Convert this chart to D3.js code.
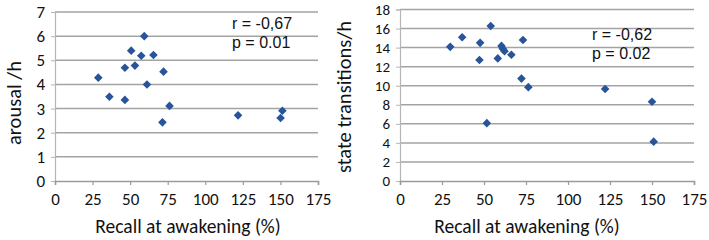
<!DOCTYPE html>
<html><head><meta charset="utf-8">
<script src="https://cdn.jsdelivr.net/npm/d3@7"></script>
<style>body{margin:0;background:#fff}svg{display:block}</style>
</head><body>
<svg id="c" width="709" height="240"></svg>
<script>
const xTicks = [0,25,50,75,100,125,150,175];
const arousalTicks = [0,1,2,3,4,5,6,7];
const transTicks = [0,2,4,6,8,10,12,14,16,18];

const arousalRecall = [28.8,36.2,46.5,46.5,50.7,53.2,57.4,59.4,61.2,65.5,72.2,71.5,76.2,121.8,150.1,151.3];
const arousalValues = [4.28,3.49,3.36,4.69,5.40,4.78,5.19,6.0,4.0,5.22,4.53,2.43,3.11,2.72,2.61,2.91];

const transRecall = [29.9,37.0,47.7,47.3,54.0,51.7,58.2,60.4,61.2,62.2,66.3,73.2,72.3,76.4,122.1,150.0,151.0];
const transValues = [14.08,15.09,14.5,12.7,16.27,6.07,12.87,14.18,13.87,13.63,13.25,14.8,10.75,9.85,9.65,8.32,4.13];

const xTitle = "Recall at awakening (%)";
const panels = [
  {xr:[55,318], yr:[181,12], ymax:7, yticks:arousalTicks, yfs:17, xs:arousalRecall, ys:arousalValues,
   ytitle:"arousal /h", ytx:14, yty:103, xtx:188, r:"r = -0,67", p:"p = 0.01", ax:232, ary:29, apy:48},
  {xr:[400,694], yr:[181,9.5], ymax:18, yticks:transTicks, yfs:15, xs:transRecall, ys:transValues,
   ytitle:"state transitions/h", ytx:344, yty:97, xtx:527, r:"r = -0,62", p:"p = 0.02", ax:592, ary:40, apy:58.5}
];
const svg = d3.select("#c");
const tickFont = "Carlito, Lato, 'Open Sans', sans-serif";
const blue = "#27549a";
panels.forEach(P => {
  const x = d3.scaleLinear().domain([0,175]).range(P.xr);
  const y = d3.scaleLinear().domain([0,P.ymax]).range(P.yr);
  const g = svg.append("g");
  g.selectAll(".grid").data(P.yticks.filter(t=>t>0)).join("line")
    .attr("x1", x(0)).attr("x2", x(175)).attr("y1", d=>y(d)).attr("y2", d=>y(d))
    .attr("stroke","#a3a3a3").attr("stroke-width",1.5);
  const ya = g.append("g").attr("transform",`translate(${x(0)},0)`)
    .call(d3.axisLeft(y).tickValues(P.yticks).tickSize(4).tickPadding(6).tickFormat(d3.format("d")));
  ya.select(".domain").attr("stroke","#b5b5b5").attr("stroke-width",1.2);
  ya.selectAll(".tick line").attr("stroke","#b5b5b5");
  ya.selectAll("text").attr("font-family",tickFont).attr("font-size",P.yfs).attr("fill","#111");
  const xa = g.append("g").attr("transform",`translate(0,${y(0)})`)
    .call(d3.axisBottom(x).tickValues(xTicks).tickSize(4).tickPadding(8).tickFormat(d3.format("d")));
  xa.select(".domain").attr("stroke","#9a9a9a").attr("stroke-width",1.5);
  xa.selectAll(".tick line").attr("stroke","#9a9a9a").attr("stroke-width",1.2);
  xa.selectAll("text").attr("font-family",tickFont).attr("font-size",17).attr("fill","#111");
  g.selectAll(".pt").data(P.xs.map((v,i)=>[v,P.ys[i]])).join("path")
    .attr("d","M0,-4.3L4.3,0L0,4.3L-4.3,0Z")
    .attr("transform", d=>`translate(${x(d[0])},${y(d[1])})`)
    .attr("fill", blue);
  g.append("text").attr("x",P.xtx).attr("y",233).attr("text-anchor","middle")
    .attr("font-family",tickFont).attr("font-size",19.5).attr("fill","#111").text(xTitle);
  g.append("text").attr("transform",`translate(${P.ytx+7},${P.yty}) rotate(-90)`)
    .attr("text-anchor","middle").attr("font-family",tickFont).attr("font-size",20.5).attr("fill","#111").text(P.ytitle);
  g.append("text").attr("x",P.ax).attr("y",P.ary).attr("font-family","'Liberation Sans', Arial, sans-serif")
    .attr("font-size",16).attr("fill","#111").text(P.r);
  g.append("text").attr("x",P.ax).attr("y",P.apy).attr("font-family","'Liberation Sans', Arial, sans-serif")
    .attr("font-size",16).attr("fill","#111").text(P.p);
});
</script>
</body></html>
